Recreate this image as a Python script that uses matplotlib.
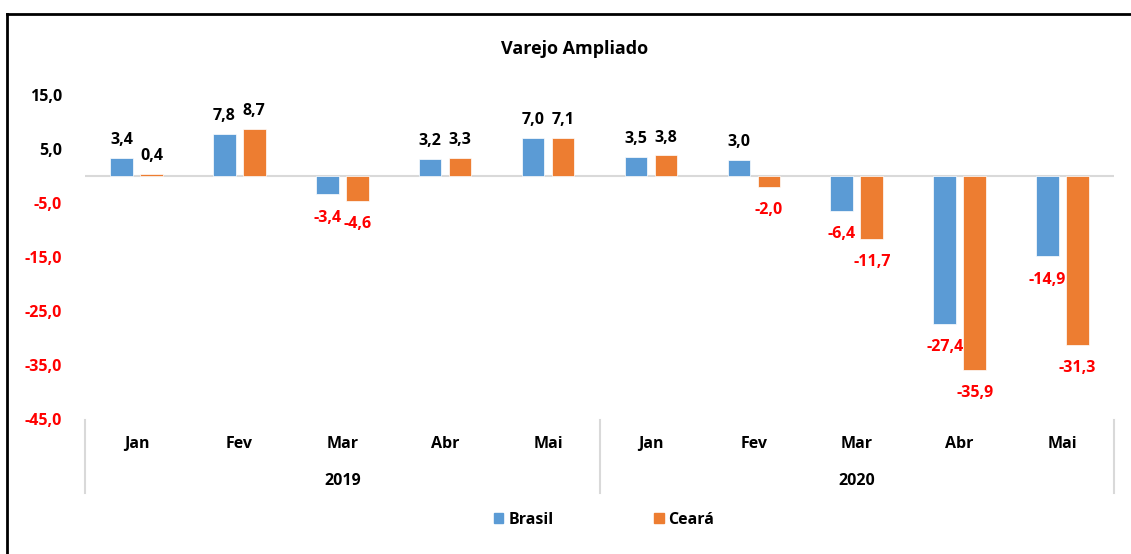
import matplotlib.pyplot as plt
import matplotlib.transforms as mtransforms
from matplotlib.lines import Line2D
from matplotlib.patches import Patch
import numpy as np

months = ['Jan', 'Fev', 'Mar', 'Abr', 'Mai', 'Jan', 'Fev', 'Mar', 'Abr', 'Mai']
years = ['2019', '2020']
brasil = [3.4, 7.8, -3.4, 3.2, 7.0, 3.5, 3.0, -6.4, -27.4, -14.9]
ceara = [0.4, 8.7, -4.6, 3.3, 7.1, 3.8, -2.0, -11.7, -35.9, -31.3]
yticks = [15, 5, -5, -15, -25, -35, -45]

c_br = '#5B9BD5'
c_ce = '#ED7D31'
red = '#FF0000'

plt.rcParams['font.family'] = ['Open Sans', 'DejaVu Sans']
plt.rcParams['font.weight'] = 'bold'
FS = 11.5

W, H = 1131, 554
fig = plt.figure(figsize=(W / 100, H / 100), dpi=100)
ax = fig.add_axes([85 / W, 1 - 419 / H, (1114 - 85) / W, (419 - 68) / H])

x = np.arange(len(months))
w = 0.22
off = 0.146
ax.bar(x - off, brasil, w, color=c_br, edgecolor='white', linewidth=0.5)
ax.bar(x + off, ceara, w, color=c_ce, edgecolor='white', linewidth=0.5)

def fmt(v):
    return ('%.1f' % v).replace('.', ',')

for xs, vals in ((x - off, brasil), (x + off, ceara)):
    for xi, v in zip(xs, vals):
        if v >= 0:
            ax.annotate(fmt(v), (xi, v), xytext=(0, 7), textcoords='offset points',
                        ha='center', va='bottom', fontsize=FS, fontweight='bold', color='black')
        else:
            ax.annotate(fmt(v), (xi, v), xytext=(0, -11), textcoords='offset points',
                        ha='center', va='top', fontsize=FS, fontweight='bold', color=red)

ax.set_xlim(-0.5, 9.5)
ax.set_ylim(-45, 20)
ax.axhline(0, color='#d9d9d9', lw=1.5, zorder=0)
for s in ax.spines.values():
    s.set_visible(False)
ax.set_xticks([])
ax.set_yticks(yticks)
ax.set_yticklabels([fmt(t) for t in yticks])
ax.tick_params(axis='y', length=0, pad=16.5, labelsize=FS)
for lbl, t in zip(ax.get_yticklabels(), yticks):
    lbl.set_color(red if t < 0 else 'black')
    lbl.set_fontweight('bold')

# multi-level category axis
tr = mtransforms.blended_transform_factory(ax.transData, fig.transFigure)
for i, m in enumerate(months):
    ax.text(i, 1 - 444 / H, m, transform=tr, ha='center', va='center',
            fontsize=FS, fontweight='bold')
for j, yr in enumerate(years):
    ax.text(2 + 5 * j, 1 - 481 / H, yr, transform=tr, ha='center', va='center',
            fontsize=FS, fontweight='bold')
for xv in (-0.5, 4.5, 9.5):
    ax.add_line(Line2D([xv, xv], [1 - 420 / H, 1 - 493 / H], transform=tr,
                       color='#d9d9d9', lw=1.5, clip_on=False))

fig.text(575 / W, 1 - 49 / H, 'Varejo Ampliado', ha='center', va='center',
         fontsize=13, fontweight='bold')

handles = [Patch(color=c_br, label='Brasil'), Patch(color=c_ce, label='Ceará')]
fig.legend(handles=handles, loc='center', bbox_to_anchor=(604 / W, 1 - 520 / H), ncol=2,
           frameon=False, handlelength=0.6, handleheight=0.6, handletextpad=0.3,
           columnspacing=6.3, prop={'size': FS, 'weight': 'bold'})

# chart border (left and top visible)
fig.add_artist(Line2D([7 / W, 7 / W], [0, 1 - 14 / H], transform=fig.transFigure, color='black', lw=2))
fig.add_artist(Line2D([7 / W, 1], [1 - 14 / H, 1 - 14 / H], transform=fig.transFigure, color='black', lw=2))

fig.savefig('out.png', dpi=100, facecolor='white')
